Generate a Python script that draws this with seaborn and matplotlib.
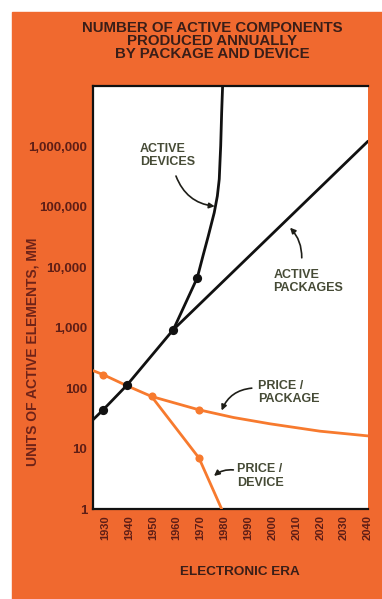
import matplotlib
matplotlib.use("Agg")
import matplotlib.pyplot as plt
from matplotlib.patches import Rectangle
from matplotlib.ticker import FuncFormatter, NullLocator
import numpy as np
import pandas as pd
import seaborn as sns

# ---- data -------------------------------------------------------------
pkg_years = [1925, 1929.3, 1939.1, 1958.6, 2040]
pkg_units = [30, 44, 111, 930, 1.22e6]
pkg_mark_years = [1929.3, 1939.1]
pkg_mark_units = [44, 111]

dev_years = [1958.6, 1968.6, 1971.0, 1973.2, 1975.7, 1977.0, 1977.8, 1978.1, 1978.4, 1978.8, 1979.2]
dev_units = [930, 6700, 15500, 32800, 80200, 151000, 288000, 5.5e5, 1.02e6, 3.6e6, 1.0e7]
dev_mark_years = [1958.6, 1968.6]
dev_mark_units = [930, 6700]

ppkg_years = [1925, 1929.3, 1939.1, 1949.5, 1969.3, 1983.7, 1999.0, 2019.9, 2040]
ppkg_price = [195, 167, 110, 72.8, 43.8, 32.7, 25.7, 19.4, 16.2]
ppkg_mark_years = [1929.3, 1949.5, 1969.3]
ppkg_mark_price = [167, 72.8, 43.8]

pdev_years = [1949.5, 1969.3, 1978.8]
pdev_price = [72.8, 7.0, 1.0]
pdev_mark_years = [1969.3]
pdev_mark_price = [7.0]

x_ticks = list(range(1930, 2041, 10))
y_ticks = [1, 10, 100, 1000, 10000, 100000, 1000000]

title_lines = ["NUMBER OF ACTIVE COMPONENTS", "PRODUCED ANNUALLY", "BY PACKAGE AND DEVICE"]
y_label = "UNITS OF ACTIVE ELEMENTS, MM"
x_label = "ELECTRONIC ERA"

# ---- style ------------------------------------------------------------
sns.set_theme(style="white")
plt.rcParams["font.family"] = ["Liberation Sans", "DejaVu Sans"]
plt.rcParams["font.weight"] = "bold"

BG = "#F0692F"
LINE_ORANGE = "#F77A2E"
TITLE_C = "#3A1E18"
TICK_C = "#5E1E16"
NOTE_C = "#464B36"
BLACK = "#111111"

fig = plt.figure(figsize=(3.82, 5.99), dpi=100)
fig.patch.set_facecolor("white")
fig.patches.append(Rectangle((12 / 382, 0), 1, 1 - 12 / 599,
                             transform=fig.transFigure, color=BG, zorder=-10))

ax = fig.add_axes([93 / 382, 1 - 509 / 599, 275 / 382, 423 / 599])
ax.set_facecolor("white")

# ---- lines ------------------------------------------------------------
def draw(xs, ys, mx, my, color, ms):
    d = pd.DataFrame({"x": xs, "y": ys})
    sns.lineplot(data=d, x="x", y="y", ax=ax, color=color, lw=2.0,
                 sort=False, estimator=None, zorder=3)
    m = pd.DataFrame({"x": mx, "y": my})
    sns.scatterplot(data=m, x="x", y="y", ax=ax, color=color, s=ms,
                    edgecolor=color, linewidth=0, zorder=4)

draw(ppkg_years, ppkg_price, ppkg_mark_years, ppkg_mark_price, LINE_ORANGE, 34)
draw(pdev_years, pdev_price, pdev_mark_years, pdev_mark_price, LINE_ORANGE, 34)
draw(pkg_years, pkg_units, pkg_mark_years, pkg_mark_units, BLACK, 44)
draw(dev_years, dev_units, dev_mark_years, dev_mark_units, BLACK, 44)

ax.set_yscale("log")
ax.set_xlim(1925, 2040)
ax.set_ylim(1, 1e7)
ax.set_xlabel("")
ax.set_ylabel("")

ax.set_xticks(x_ticks)
ax.set_xticklabels([str(t) for t in x_ticks], rotation=90)
ax.set_yticks(y_ticks)
ax.yaxis.set_major_formatter(FuncFormatter(lambda v, p: f"{int(round(v)):,}"))
ax.yaxis.set_minor_locator(NullLocator())
ax.tick_params(axis="x", direction="in", length=4.5, width=1.0, color="#333333",
               pad=4.3, labelsize=8, labelcolor=TICK_C)
ax.tick_params(axis="y", direction="inout", length=5, width=1.0, color="#555555",
               pad=1.8, labelsize=9.5, labelcolor=TICK_C)
for lab in ax.get_xticklabels() + ax.get_yticklabels():
    lab.set_fontweight("bold")

for side in ["left", "bottom", "top"]:
    ax.spines[side].set_color(BLACK)
    ax.spines[side].set_linewidth(1.6)
ax.spines["right"].set_visible(False)

# ---- annotations ------------------------------------------------------
def note(text, tx, ty, tail, tip, rad):
    ax.text(tx, ty, text, color=NOTE_C, fontsize=9, fontweight="bold",
            ha="left", va="center", linespacing=1.15, zorder=5)
    ax.annotate("", xy=tip, xytext=tail,
                arrowprops=dict(arrowstyle="-|>", color="#1E1E18", lw=1.2,
                                mutation_scale=8,
                                connectionstyle=f"arc3,rad={rad}",
                                shrinkA=0, shrinkB=0), zorder=5)

note("ACTIVE\nDEVICES", 1944.7, 10 ** 5.85, (1959.7, 10 ** 5.51), (1975.9, 10 ** 5.01), 0.3)
note("ACTIVE\nPACKAGES", 2000.4, 10 ** 3.77, (2012.3, 10 ** 4.157), (2007.4, 10 ** 4.655), 0.2)
note("PRICE /\nPACKAGE", 1993.9, 10 ** 1.924, (1991.4, 10 ** 2.0), (1978.8, 10 ** 1.63), 0.3)
note("PRICE /\nDEVICE", 1985.1, 10 ** 0.547, (1983.7, 10 ** 0.647), (1975.6, 10 ** 0.547), 0.2)

# ---- titles -----------------------------------------------------------
for line, ypix in zip(title_lines, [28, 41, 54]):
    fig.text(212 / 382, 1 - ypix / 599, line, ha="center", va="center",
             fontsize=10.8, fontweight="bold", color=TITLE_C)
fig.text(33 / 382, 1 - 352 / 599, y_label, ha="center", va="center",
         rotation=90, fontsize=10, fontweight="bold", color="#6E2318")
fig.text(240 / 382, 1 - 572 / 599, x_label, ha="center", va="center",
         fontsize=9.7, fontweight="bold", color=TITLE_C)

fig.savefig("out.png", dpi=100)
